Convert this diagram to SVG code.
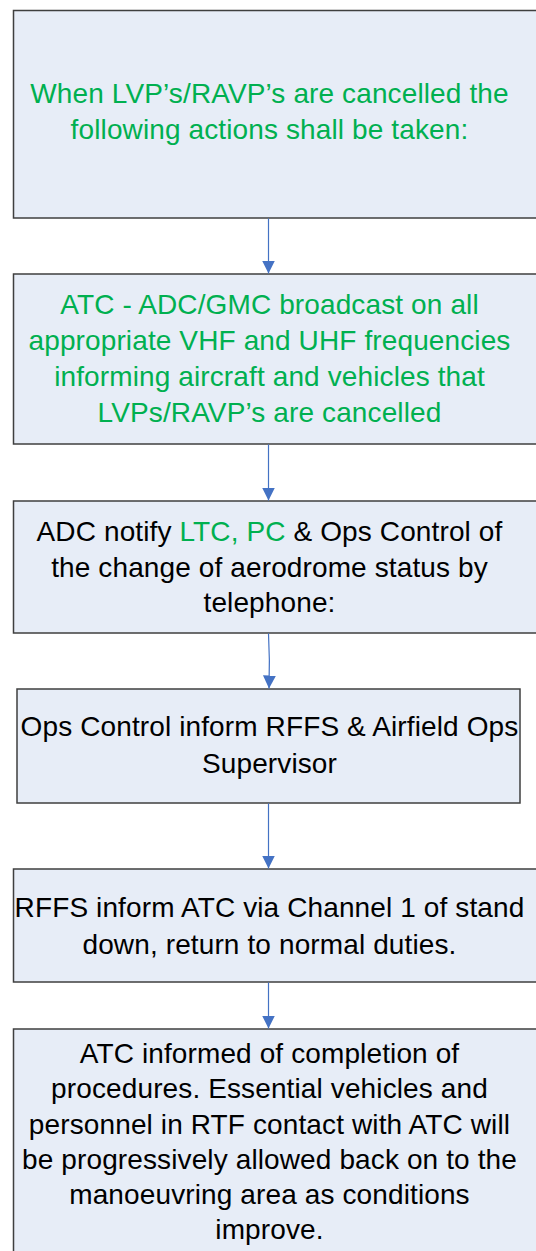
<svg xmlns="http://www.w3.org/2000/svg" width="536" height="1251" viewBox="0 0 536 1251">
<style>
.box{fill:#E7EDF7;stroke:#3F3F3F;stroke-width:1.5}
.t{font-family:"Liberation Sans",Arial,sans-serif;font-size:28px;letter-spacing:0.12px;text-anchor:middle;fill:#000}
.g{fill:#00B050}
.c{fill:none;stroke:#4472C4;stroke-width:1.2}
</style>
<defs>
<marker id="ah" markerUnits="userSpaceOnUse" markerWidth="14" markerHeight="14" viewBox="0 0 14 14" refX="13" refY="7" orient="auto">
<path d="M0,0.5 L13,7 L0,13.5 z" fill="#4472C4"/>
</marker>
</defs>
<g id="n1">
<rect class="box" x="13.5" y="10.5" width="540" height="207.5"/>
<text class="t g" x="269.5" y="103">When LVP’s/RAVP’s are cancelled the</text>
<text class="t g" x="269.5" y="139">following actions shall be taken:</text>
</g>
<g id="n2">
<rect class="box" x="13.5" y="274" width="540" height="170"/>
<text class="t g" x="269.5" y="314">ATC - ADC/GMC  broadcast on all</text>
<text class="t g" x="269.5" y="350">appropriate VHF and UHF frequencies</text>
<text class="t g" x="269.5" y="386">informing aircraft and vehicles that</text>
<text class="t g" x="269.5" y="422">LVPs/RAVP’s are cancelled</text>
</g>
<g id="n3">
<rect class="box" x="13.5" y="501" width="540" height="132"/>
<text class="t" x="269.5" y="541">ADC notify <tspan class="g">LTC, PC</tspan> &amp; Ops Control of</text>
<text class="t" x="269.5" y="576.5">the change of aerodrome status by</text>
<text class="t" x="269.5" y="611.5">telephone:</text>
</g>
<g id="n4">
<rect class="box" x="17" y="689" width="503" height="114"/>
<text class="t" x="269.5" y="736">Ops Control inform RFFS &amp; Airfield Ops</text>
<text class="t" x="269.5" y="773">Supervisor</text>
</g>
<g id="n5">
<rect class="box" x="13.5" y="869" width="540" height="113"/>
<text class="t" x="269.5" y="916.5">RFFS inform ATC via Channel 1 of stand</text>
<text class="t" x="269.5" y="954">down, return to normal duties.</text>
</g>
<g id="n6">
<rect class="box" x="13.5" y="1029" width="540" height="240"/>
<text class="t" x="269.5" y="1063">ATC informed of completion of</text>
<text class="t" x="269.5" y="1098">procedures. Essential vehicles and</text>
<text class="t" x="269.5" y="1133.5">personnel in RTF contact with ATC will</text>
<text class="t" x="269.5" y="1169">be progressively allowed back on to the</text>
<text class="t" x="269.5" y="1204">manoeuvring area as conditions</text>
<text class="t" x="269.5" y="1239">improve.</text>
</g>
<g id="connectors">
<path class="c" d="M268.5,218.5 L268.5,273.5" marker-end="url(#ah)"/>
<path class="c" d="M268.5,444.5 L268.5,500.5" marker-end="url(#ah)"/>
<path class="c" d="M268.5,633.5 Q270,660 269,688.5" marker-end="url(#ah)"/>
<path class="c" d="M268.5,803.5 L268.5,868.5" marker-end="url(#ah)"/>
<path class="c" d="M268.5,982.5 L268.5,1028.5" marker-end="url(#ah)"/>
</g>
</svg>
